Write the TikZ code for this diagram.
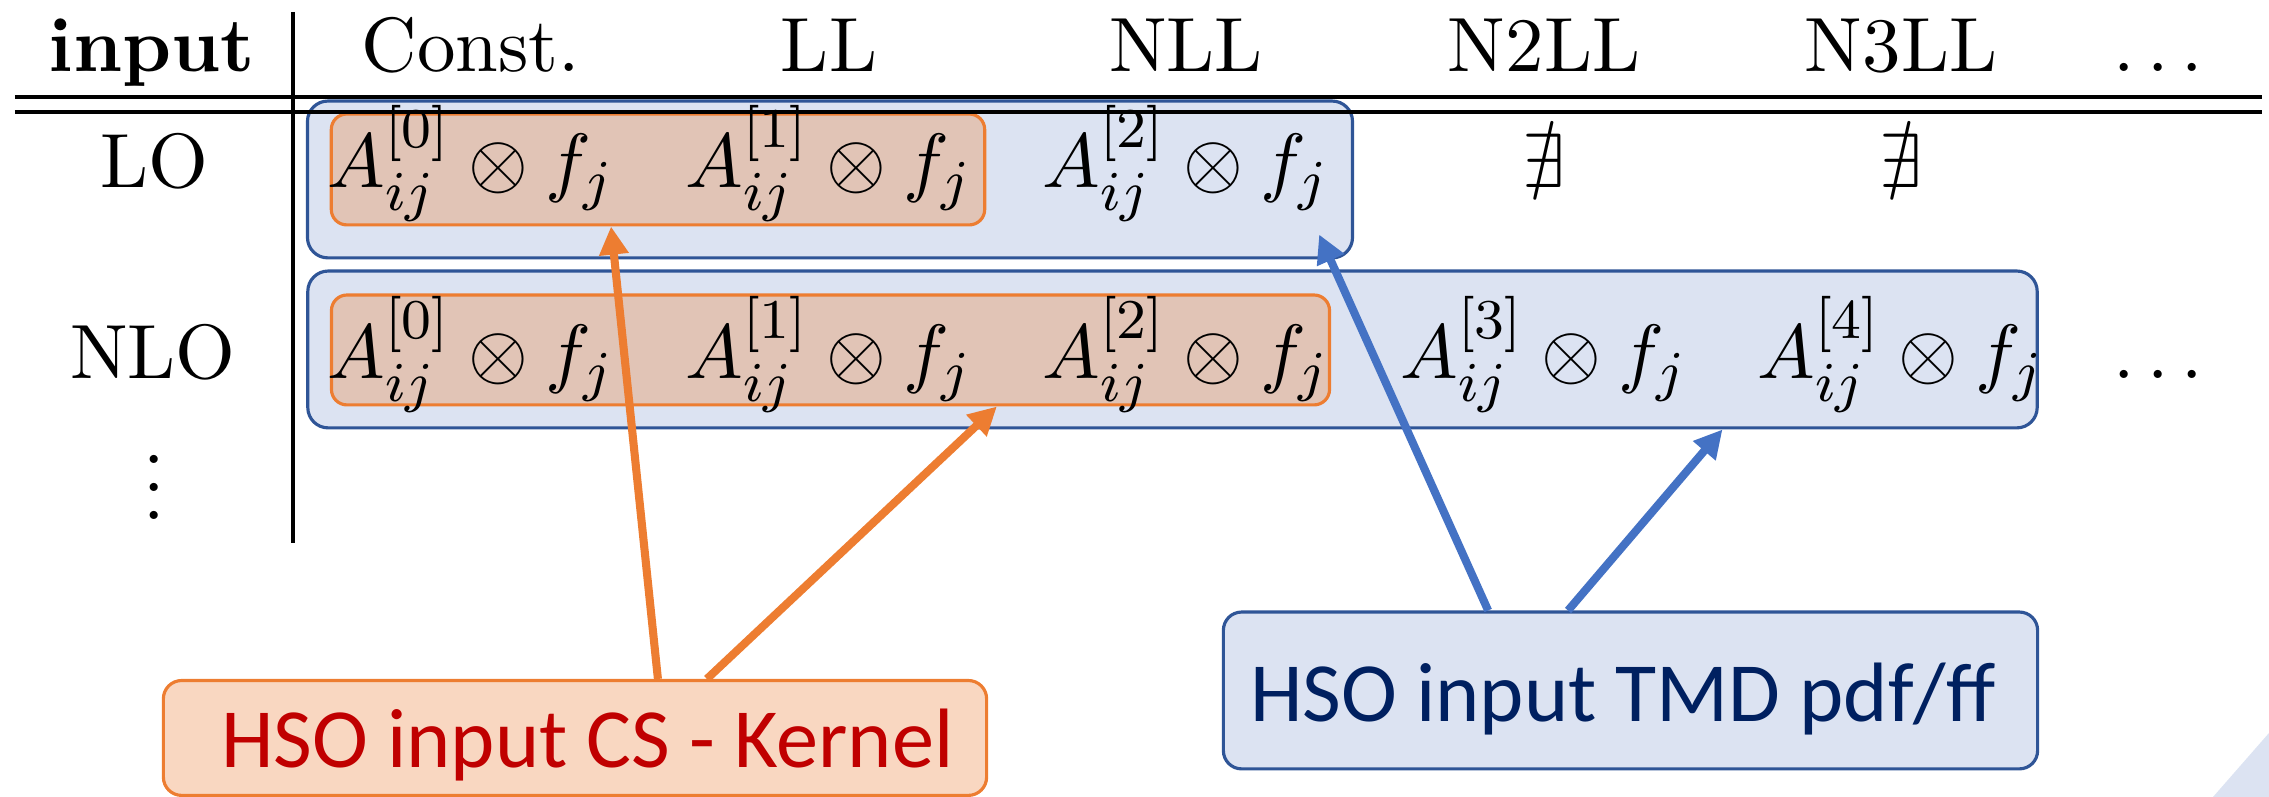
\documentclass[tikz,border=0pt]{standalone}
\usepackage{amsmath,amssymb}
\usepackage{fontspec}
\newfontfamily\calibri{Carlito}
\usepackage{tikz}
\usetikzlibrary{arrows.meta}

\definecolor{boxfill}{HTML}{DCE3F2}
\definecolor{boxedge}{HTML}{2F5597}
\definecolor{orangeedge}{HTML}{ED7D31}
\definecolor{orangefill}{HTML}{E1C4B6}
\definecolor{tagfill}{HTML}{F9D7C1}
\definecolor{arrowblue}{HTML}{4472C4}
\definecolor{kernred}{HTML}{C00000}
\definecolor{tmdnavy}{HTML}{002060}

\newcommand{\Aterm}[1]{$A^{[#1]}_{ij}\otimes f_j$}

\begin{document}
\begin{tikzpicture}[
    x=0.005cm, y=-0.005cm,
    tab/.style={font=\fontsize{10.95}{13.6}\selectfont, anchor=base, inner sep=0pt},
    bluebox/.style={draw=boxedge, fill=boxfill, line width=0.45pt,
                    rounded corners=2.9pt, inner sep=0pt},
    orangebox/.style={draw=orangeedge, fill=orangefill, line width=0.45pt,
                      rounded corners=2.2pt, inner sep=0pt},
    tagbox/.style={line width=0.45pt, rounded corners=2.6pt, inner sep=0pt},
    tagtext/.style={font=\calibri\fontsize{12}{14}\selectfont, anchor=base west, inner sep=0pt},
    rule/.style={line width=0.45pt},
    oarr/.style={-{Triangle[length=4pt, width=4pt]}, line width=1.15pt, draw=orangeedge},
    barr/.style={-{Triangle[length=4pt, width=4pt]}, line width=1.15pt, draw=arrowblue}
]
    \useasboundingbox (0,0) rectangle (2269,797);
    % corner of the slide background
    \fill[boxfill] (2213,797) -- (2269,733) -- (2269,797) -- cycle;

    % groups
    \node[bluebox, minimum width=5.23cm, minimum height=0.785cm] (loblue) at (830,179.5) {};
    \node[orangebox, minimum width=3.27cm, minimum height=0.555cm] (loorg) at (658,169.5) {};
    \node[bluebox, minimum width=8.655cm, minimum height=0.785cm] (nloblue) at (1172.5,349.5) {};
    \node[orangebox, minimum width=4.995cm, minimum height=0.55cm] (nloorg) at (830.5,350) {};

    % table rules
    \draw[rule] (293,12) -- (293,543);
    \draw[rule] (15,97) -- (2262,97);
    \draw[rule] (15,112) -- (2262,112);

    % header
    \node[tab] (hin) at (152,72) {\textbf{input}};
    \node[tab] (hc0) at (471,72) {Const.};
    \node[tab] (hc1) at (829,72) {LL};
    \node[tab] (hc2) at (1186,72) {NLL};
    \node[tab] (hc3) at (1544,72) {N2LL};
    \node[tab] (hc4) at (1901,72) {N3LL};
    \node[tab] (hdots) at (2165,72) {$\dots$};

    % LO row
    \node[tab] (lo) at (154,188) {LO};
    \node[tab] (lo0) at (471,188) {\Aterm{0}};
    \node[tab] (lo1) at (829,188) {\Aterm{1}};
    \node[tab] (lo2) at (1186,188) {\Aterm{2}};
    \node[tab] (lo3) at (1544,188) {$\nexists$};
    \node[tab] (lo4) at (1901,188) {$\nexists$};

    % NLO row
    \node[tab] (nlo) at (153,379) {NLO};
    \node[tab] (nlo0) at (471,379) {\Aterm{0}};
    \node[tab] (nlo1) at (829,379) {\Aterm{1}};
    \node[tab] (nlo2) at (1186,379) {\Aterm{2}};
    \node[tab] (nlo3) at (1544,379) {\Aterm{3}};
    \node[tab] (nlo4) at (1901,379) {\Aterm{4}};
    \node[tab] (nlodots) at (2165,379) {$\dots$};
    \node[tab] (vd) at (154,520) {$\vdots$};

    % inputs
    \node[tagbox, draw=orangeedge, fill=tagfill, minimum width=4.12cm, minimum height=0.575cm] (cs) at (575,738) {};
    \node[tagtext, text=kernred] (cstext) at (220,768) {HSO input CS - Kernel};
    \node[tagbox, draw=boxedge, fill=boxfill, minimum width=4.075cm, minimum height=0.785cm] (tmd) at (1630.5,690.5) {};
    \node[tagtext, text=tmdnavy] (tmdtext) at (1249,722) {HSO input TMD pdf/ff};

    \draw[oarr] ([xshift=0.415cm]cs.north) -- ([xshift=-0.235cm]loorg.south);
    \draw[oarr] ([xshift=0.66cm]cs.north) -- ([xshift=0.8325cm]nloorg.south);
    \draw[barr] ([xshift=-0.7125cm]tmd.north) -- ([xshift=-0.175cm, yshift=0.125cm]loblue.south east);
    \draw[barr] ([xshift=-0.3125cm]tmd.north) -- ([xshift=2.7525cm]nloblue.south);
\end{tikzpicture}
\end{document}
